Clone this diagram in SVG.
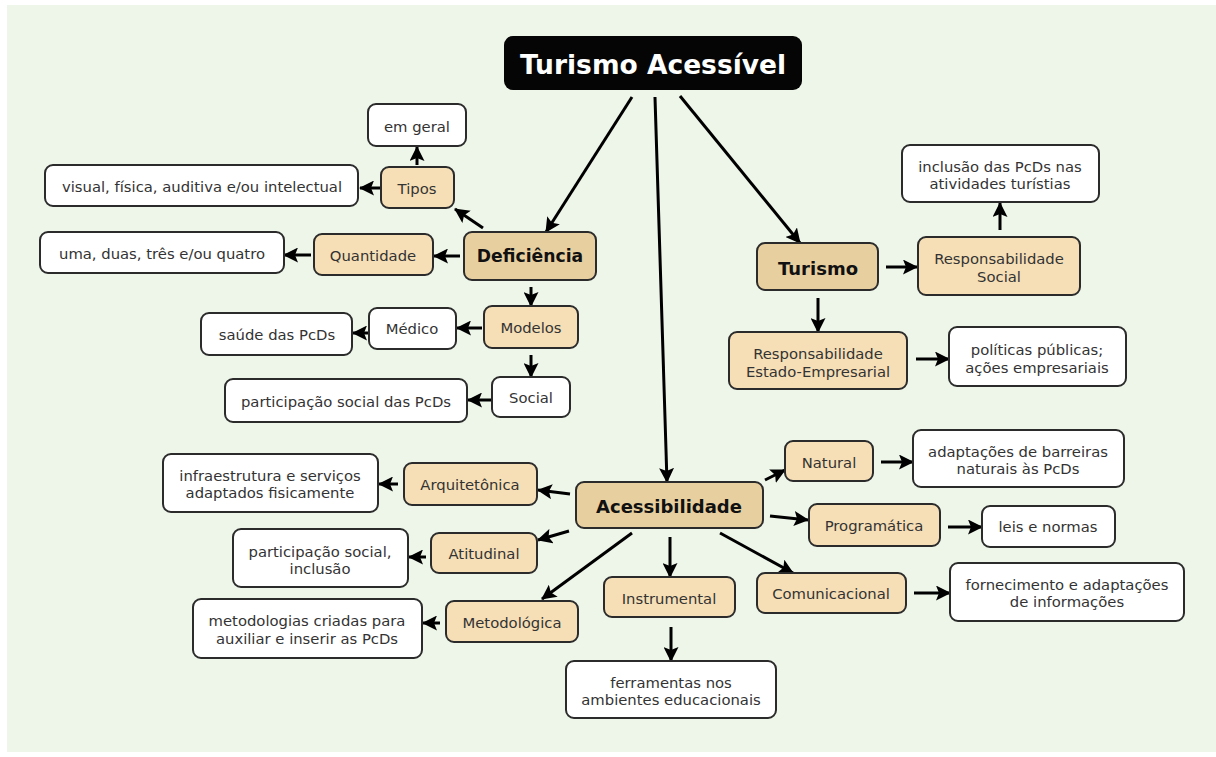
<svg xmlns="http://www.w3.org/2000/svg" width="1216" height="757" viewBox="0 0 1216 757">
<defs>
<marker id="ah" markerUnits="userSpaceOnUse" markerWidth="15" markerHeight="15" refX="14" refY="7.5" orient="auto" viewBox="0 0 15 15">
<path d="M0,0 L15,7.5 L0,15 L3,7.5 z" fill="#000"/>
</marker>
<style>
.n rect{stroke:#2b2b2b;stroke-width:2}
.w rect{fill:#fff}
.l rect{fill:#f6dfb6}
.d rect{fill:#e8cf9f}
text{font-family:"DejaVu Sans","Verdana",sans-serif;font-size:14.8px;fill:#333;text-anchor:middle;dominant-baseline:central}
.d text{font-weight:bold;font-size:18px;fill:#111}
#conn line{stroke:#000;stroke-width:3;marker-end:url(#ah)}
</style>
</defs>
<rect x="0" y="0" width="1216" height="757" fill="#fff"/>
<rect x="7" y="5" width="1209" height="747" fill="#eef6ea"/>

<g id="conn">
<line x1="632" y1="97" x2="546" y2="232"/>
<line x1="655" y1="97" x2="667" y2="482"/>
<line x1="680" y1="96" x2="800" y2="243"/>
<line x1="483" y1="228" x2="455" y2="209"/>
<line x1="417" y1="165" x2="417" y2="147"/>
<line x1="380" y1="188" x2="360" y2="188"/>
<line x1="460" y1="256" x2="434" y2="256"/>
<line x1="311" y1="255" x2="284" y2="255"/>
<line x1="531" y1="287" x2="531" y2="306"/>
<line x1="482" y1="328" x2="457" y2="328"/>
<line x1="368" y1="333" x2="353" y2="333"/>
<line x1="531" y1="355" x2="531" y2="377"/>
<line x1="492" y1="400" x2="468" y2="400"/>
<line x1="886" y1="267" x2="917" y2="267"/>
<line x1="1000" y1="230" x2="1000" y2="203"/>
<line x1="818" y1="298" x2="818" y2="332"/>
<line x1="916" y1="359" x2="949" y2="359"/>
<line x1="570" y1="494" x2="538" y2="490"/>
<line x1="398" y1="484" x2="379" y2="484"/>
<line x1="569" y1="531" x2="538" y2="540"/>
<line x1="426" y1="557" x2="409" y2="557"/>
<line x1="632" y1="533" x2="542" y2="599"/>
<line x1="440" y1="623" x2="423" y2="623"/>
<line x1="670" y1="537" x2="670" y2="577"/>
<line x1="671" y1="627" x2="671" y2="661"/>
<line x1="720" y1="533" x2="793" y2="573"/>
<line x1="914" y1="593" x2="950" y2="593"/>
<line x1="765" y1="480" x2="785" y2="470"/>
<line x1="881" y1="462" x2="913" y2="462"/>
<line x1="770" y1="516" x2="808" y2="520"/>
<line x1="948" y1="527" x2="982" y2="527"/>
</g>

<g id="title">
<rect x="504" y="36" width="298" height="54" rx="9" fill="#050505"/>
<text x="653" y="64" style="font-weight:bold;font-size:26.5px;fill:#fff">Turismo Acessível</text>
</g>

<g id="deficiencia" class="n d"><rect x="464" y="232" width="132" height="48" rx="8"/><text x="530" y="256" style="font-size:17.2px">Deficiência</text></g>
<g id="tipos" class="n l"><rect x="381" y="167" width="73" height="41" rx="8"/><text x="417" y="188">Tipos</text></g>
<g id="emgeral" class="n w"><rect x="368" y="104" width="98" height="42" rx="8"/><text x="417" y="126">em geral</text></g>
<g id="visual" class="n w"><rect x="45" y="165" width="313" height="41" rx="8"/><text x="202" y="186">visual, física, auditiva e/ou intelectual</text></g>
<g id="quantidade" class="n l"><rect x="314" y="234" width="119" height="41" rx="8"/><text x="373" y="255">Quantidade</text></g>
<g id="uma" class="n w"><rect x="40" y="232" width="244" height="41" rx="8"/><text x="162" y="253">uma, duas, três e/ou quatro</text></g>
<g id="modelos" class="n l"><rect x="484" y="306" width="94" height="42" rx="8"/><text x="531" y="327">Modelos</text></g>
<g id="medico" class="n w"><rect x="369" y="308" width="87" height="41" rx="8"/><text x="412" y="328">Médico</text></g>
<g id="saude" class="n w"><rect x="201" y="313" width="151" height="42" rx="8"/><text x="277" y="334">saúde das PcDs</text></g>
<g id="social" class="n w"><rect x="492" y="377" width="78" height="40" rx="8"/><text x="531" y="397">Social</text></g>
<g id="participacao" class="n w"><rect x="225" y="379" width="242" height="43" rx="8"/><text x="346" y="401">participação social das PcDs</text></g>

<g id="turismo" class="n d"><rect x="757" y="243" width="121" height="47" rx="8"/><text x="818" y="268">Turismo</text></g>
<g id="respsocial" class="n l"><rect x="918" y="237" width="162" height="58" rx="8"/><text x="999" y="258">Responsabilidade</text><text x="999" y="276">Social</text></g>
<g id="inclusao" class="n w"><rect x="902" y="145" width="197" height="57" rx="8"/><text x="1000" y="166">inclusão das PcDs nas</text><text x="1000" y="183">atividades turístias</text></g>
<g id="respestado" class="n l"><rect x="729" y="332" width="178" height="57" rx="8"/><text x="818" y="353">Responsabilidade</text><text x="818" y="371">Estado-Empresarial</text></g>
<g id="politicas" class="n w"><rect x="949" y="327" width="177" height="59" rx="8"/><text x="1037" y="349">políticas públicas;</text><text x="1037" y="367">ações empresariais</text></g>

<g id="acessibilidade" class="n d"><rect x="576" y="482" width="187" height="46" rx="8"/><text x="669" y="506">Acessibilidade</text></g>
<g id="natural" class="n l"><rect x="785" y="441" width="88" height="40" rx="8"/><text x="829" y="462">Natural</text></g>
<g id="adaptacoes" class="n w"><rect x="913" y="430" width="211" height="57" rx="8"/><text x="1018" y="451">adaptações de barreiras</text><text x="1018" y="468">naturais às PcDs</text></g>
<g id="programatica" class="n l"><rect x="809" y="504" width="131" height="42" rx="8"/><text x="874" y="525">Programática</text></g>
<g id="leis" class="n w"><rect x="982" y="506" width="133" height="41" rx="8"/><text x="1048" y="526">leis e normas</text></g>
<g id="arquitetonica" class="n l"><rect x="404" y="463" width="133" height="42" rx="8"/><text x="470" y="484">Arquitetônica</text></g>
<g id="infra" class="n w"><rect x="163" y="454" width="215" height="58" rx="8"/><text x="270" y="475">infraestrutura e serviços</text><text x="270" y="492">adaptados fisicamente</text></g>
<g id="atitudinal" class="n l"><rect x="431" y="533" width="106" height="40" rx="8"/><text x="484" y="553">Atitudinal</text></g>
<g id="partsocial" class="n w"><rect x="233" y="529" width="175" height="58" rx="8"/><text x="320" y="551">participação social,</text><text x="320" y="568">inclusão</text></g>
<g id="metodologica" class="n l"><rect x="446" y="601" width="132" height="41" rx="8"/><text x="512" y="622">Metodológica</text></g>
<g id="metodologias" class="n w"><rect x="193" y="599" width="229" height="59" rx="8"/><text x="307" y="620">metodologias criadas para</text><text x="307" y="638">auxiliar e inserir as PcDs</text></g>
<g id="instrumental" class="n l"><rect x="604" y="577" width="131" height="40" rx="8"/><text x="669" y="598">Instrumental</text></g>
<g id="ferramentas" class="n w"><rect x="566" y="661" width="210" height="57" rx="8"/><text x="671" y="682">ferramentas nos</text><text x="671" y="699">ambientes educacionais</text></g>
<g id="comunicacional" class="n l"><rect x="757" y="573" width="149" height="40" rx="8"/><text x="831" y="593">Comunicacional</text></g>
<g id="fornecimento" class="n w"><rect x="950" y="563" width="234" height="58" rx="8"/><text x="1067" y="584">fornecimento e adaptações</text><text x="1067" y="601">de informações</text></g>
</svg>
